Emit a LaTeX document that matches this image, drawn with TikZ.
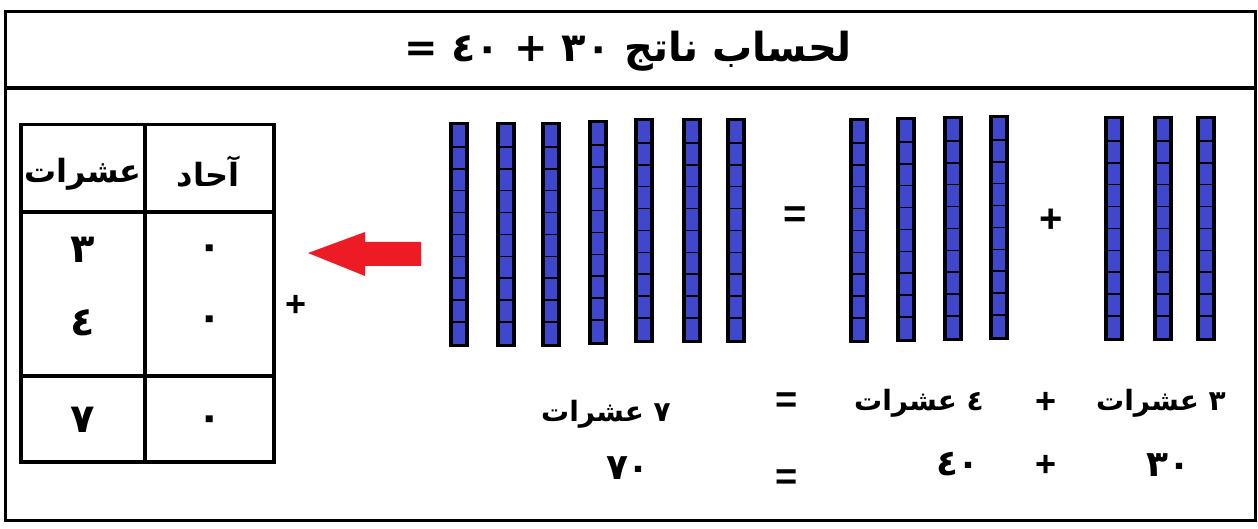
\documentclass[tikz,border=0pt]{standalone}
\usepackage{fontspec}
\newfontfamily\arabicfont[Script=Arabic]{DejaVu Sans}
\newfontfamily\symfont{Liberation Sans}
\TeXXeTstate=1
\definecolor{rodblue}{RGB}{63,72,204}
\definecolor{arrowred}{RGB}{237,28,36}
\tikzset{
  ar/.style={font=\arabicfont\bfseries\fontsize{#1}{#1}\selectfont, inner sep=0pt, anchor=center},
  sym/.style={font=\symfont\bfseries\fontsize{#1}{#1}\selectfont, inner sep=0pt, anchor=center},
  frame/.style={line width=3.2pt},
  rod/.pic={
    \fill[black] (0,0) rectangle (20,225);
    \fill[rodblue] (4,3) rectangle (16,222);
    \foreach \k in {1,...,9} \draw[line width=1.6pt] (4,{3+\k*21.9}) -- (16,{3+\k*21.9});
  }
}
\begin{document}
\begin{tikzpicture}[x=1pt,y=-1pt]
\useasboundingbox (0,0) rectangle (1258,529);
% frame
\draw[frame] (5.5,11.5) rectangle (1255.5,520.5);
\draw[frame] (5.5,88) -- (1255.5,88);
% title
\node[ar=40] (title) at (628,51) {\beginR لحساب ناتج ٣٠ + ٤٠ =\endR};
% table
\draw[frame] (21,124.5) rectangle (274,462);
\draw[frame] (145,124.5) -- (145,462);
\draw[frame] (21,212) -- (274,212);
\draw[frame] (21,376) -- (274,376);
\node[ar=32] (hT) at (83,174) {\beginR عشرات\endR};
\node[ar=32] (hU) at (208,172) {\beginR آحاد\endR};
\node[ar=40] (t1) at (83,250) {٣};
\node[ar=40] (t2) at (83,323) {٤};
\node[ar=40] (t3) at (83,420) {٧};
\node[ar=40] (u1) at (210,252) {٠};
\node[ar=40] (u2) at (210,323) {٠};
\node[ar=40] (u3) at (210,423) {٠};
\node[sym=36] (tplus) at (296,306) {+};
% arrow
\fill[arrowred] (308,253) -- (365,232) -- (365,242) -- (421,242) -- (421,266) -- (365,266) -- (365,276) -- cycle;
% rods
\foreach \x/\y in {449/122,496/122,541/122,588/120,634/118,682/118,726/118,
                   849/118,896/117,943/116,989/115,1104/116,1153/116,1196/116}
  \pic at (\x,\y) {rod};
\node[sym=40] (eqA) at (795,217) {=};
\node[sym=40] (plA) at (1051,221) {+};
% bottom equations
\node[ar=28] (b3) at (1161,403) {\beginR ٣ عشرات\endR};
\node[sym=36] (bp1) at (1046,403) {+};
\node[ar=28] (b4) at (919,403) {\beginR ٤ عشرات\endR};
\node[sym=38] (be1) at (787,403) {=};
\node[ar=28] (b7) at (606,414) {\beginR ٧ عشرات\endR};
\node[ar=36] (n3) at (1168,465) {٣٠};
\node[sym=36] (bp2) at (1046,466) {+};
\node[ar=36] (n4) at (958,464) {٤٠};
\node[sym=38] (be2) at (787,480) {=};
\node[ar=36] (n7) at (628,468) {٧٠};
\end{tikzpicture}
\end{document}
